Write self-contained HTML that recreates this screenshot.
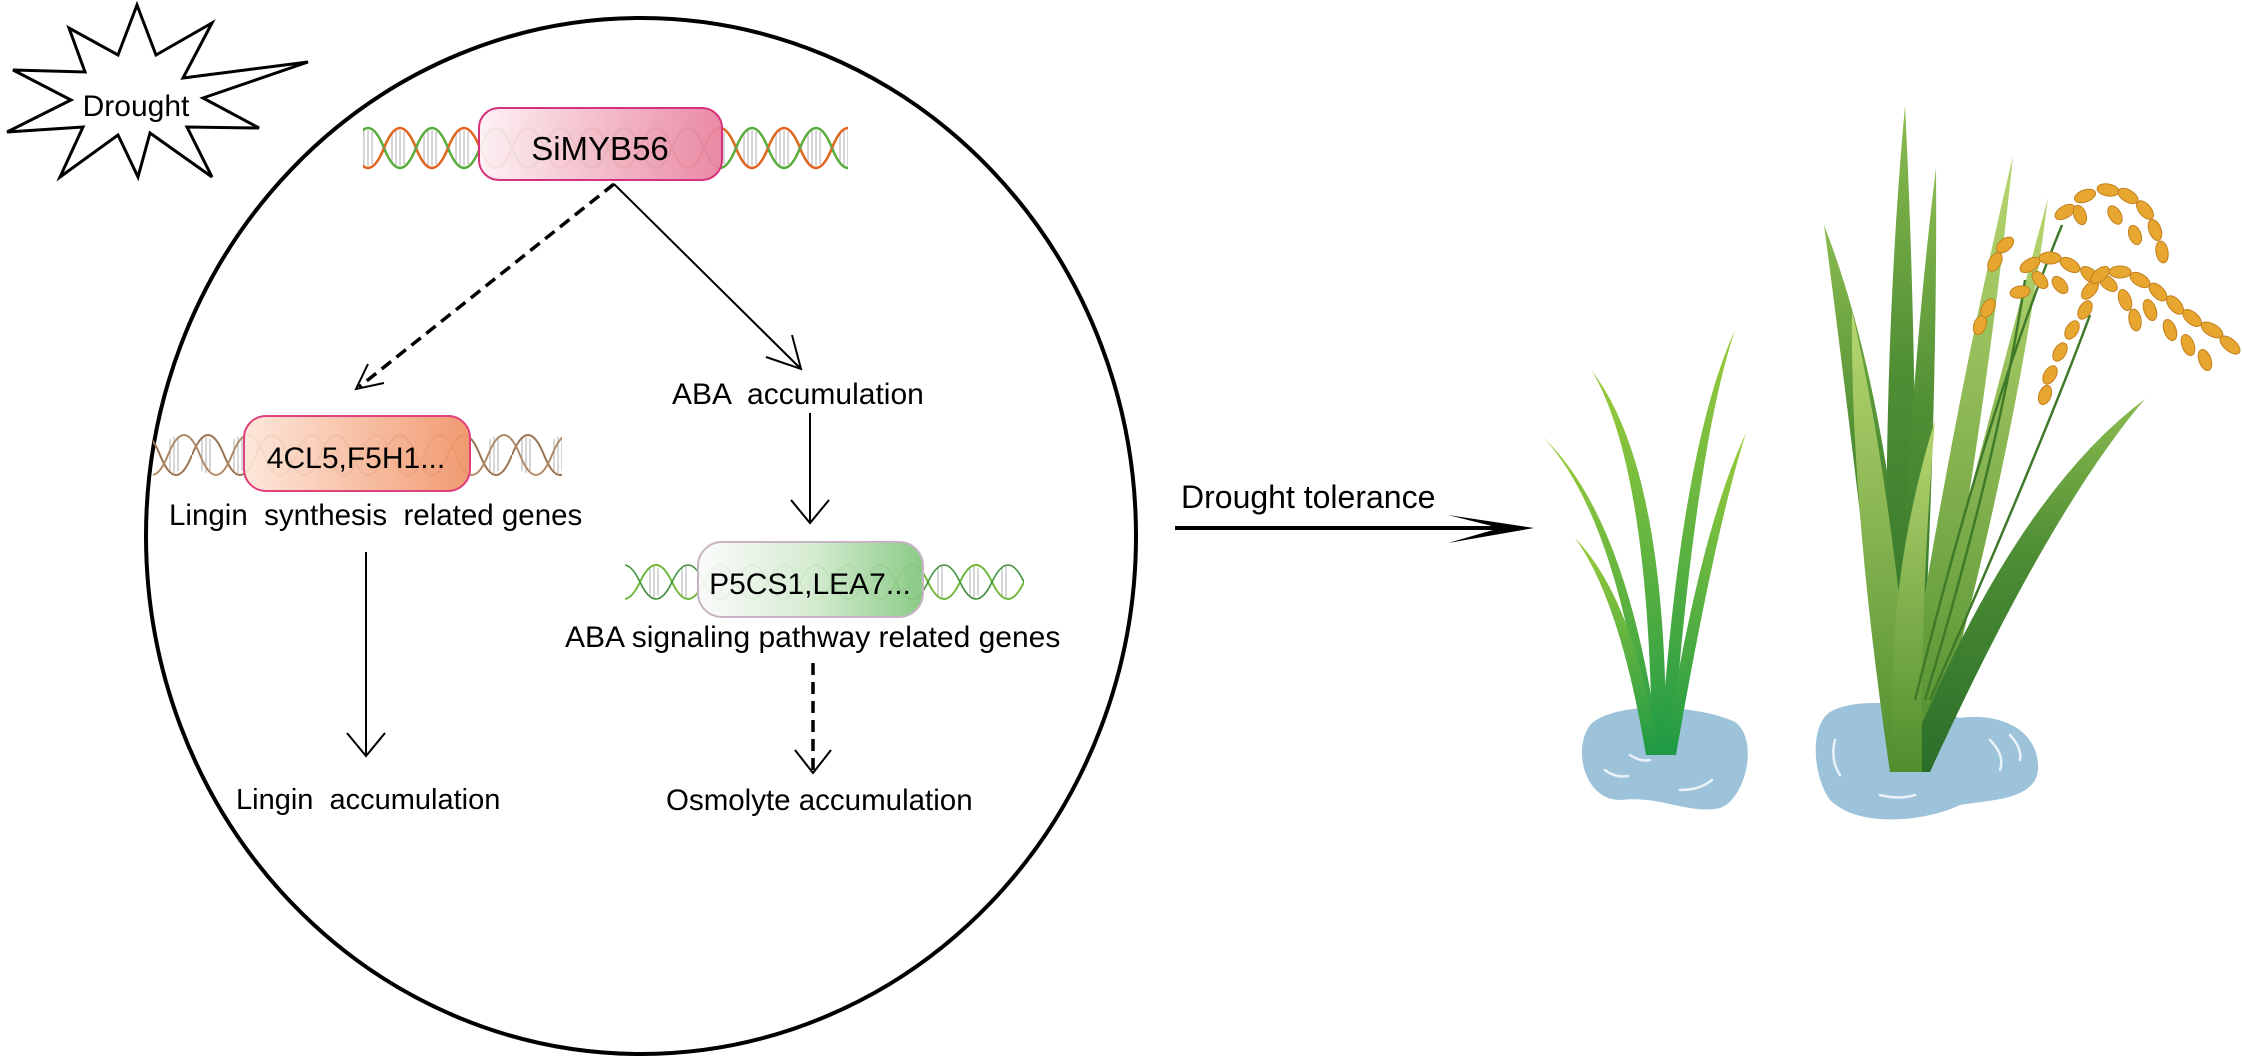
<!DOCTYPE html>
<html><head><meta charset="utf-8"><style>
html,body{margin:0;padding:0;background:#fff;}
svg{display:block;}
text{font-family:"Liberation Sans",sans-serif;fill:#000;white-space:pre;}
</style></head><body>
<svg width="2242" height="1056" viewBox="0 0 2242 1056" xmlns="http://www.w3.org/2000/svg" xml:space="preserve">
<defs>
<pattern id="dnaA" patternUnits="userSpaceOnUse" x="0" y="126" width="64" height="44">
 <g stroke="#bbb" stroke-width="1.2">
  <line x1="8" y1="6" x2="8" y2="38"/><line x1="12" y1="4" x2="12" y2="40"/><line x1="16" y1="4" x2="16" y2="40"/><line x1="20" y1="6" x2="20" y2="38"/>
  <line x1="40" y1="6" x2="40" y2="38"/><line x1="44" y1="4" x2="44" y2="40"/><line x1="48" y1="4" x2="48" y2="40"/><line x1="52" y1="6" x2="52" y2="38"/>
 </g>
 <path d="M0,22 Q16,-18 32,22 T64,22" fill="none" stroke="#e0641c" stroke-width="2.5"/>
 <path d="M0,22 Q16,62 32,22 T64,22" fill="none" stroke="#5aab3c" stroke-width="2.5"/>
</pattern>
<pattern id="dnaB" patternUnits="userSpaceOnUse" x="0" y="433" width="64" height="44">
 <g stroke="#bbb" stroke-width="1.2">
  <line x1="10" y1="6" x2="10" y2="38"/><line x1="14" y1="4" x2="14" y2="40"/><line x1="18" y1="6" x2="18" y2="38"/>
  <line x1="42" y1="6" x2="42" y2="38"/><line x1="46" y1="4" x2="46" y2="40"/><line x1="50" y1="6" x2="50" y2="38"/>
 </g>
 <path d="M0,22 Q16,-18 32,22 T64,22" fill="none" stroke="#9a7250" stroke-width="2"/>
 <path d="M8,22 Q24,62 40,22 T72,22 M-56,22 Q-40,62 -24,22 T8,22" fill="none" stroke="#b08a68" stroke-width="2"/>
</pattern>
<pattern id="dnaC" patternUnits="userSpaceOnUse" x="0" y="562" width="64" height="40">
 <g stroke="#bbb" stroke-width="1.2">
  <line x1="10" y1="6" x2="10" y2="34"/><line x1="14" y1="4" x2="14" y2="36"/><line x1="18" y1="6" x2="18" y2="34"/>
  <line x1="42" y1="6" x2="42" y2="34"/><line x1="46" y1="4" x2="46" y2="36"/>
 </g>
 <path d="M0,20 Q16,-14 32,20 T64,20" fill="none" stroke="#6fb83c" stroke-width="2"/>
 <path d="M0,20 Q16,54 32,20 T64,20" fill="none" stroke="#3f8f3a" stroke-width="1.6"/>
</pattern>
<linearGradient id="gPink" x1="0" x2="1"><stop offset="0" stop-color="#fdf1f4"/><stop offset="0.5" stop-color="#f2b8c6"/><stop offset="1" stop-color="#e9819f"/></linearGradient>
<linearGradient id="gOr" x1="0" x2="1"><stop offset="0" stop-color="#fde6d8"/><stop offset="1" stop-color="#f09367"/></linearGradient>
<linearGradient id="gGr" x1="0" x2="1"><stop offset="0" stop-color="#fbfbfb"/><stop offset="0.5" stop-color="#d3ebcf"/><stop offset="1" stop-color="#82c77d"/></linearGradient>
<linearGradient id="gLeaf" x1="0" y1="1" x2="0" y2="0"><stop offset="0" stop-color="#1f9a45"/><stop offset="1" stop-color="#9ccb3c"/></linearGradient>
<linearGradient id="gLeaf2" x1="0" y1="1" x2="0" y2="0"><stop offset="0" stop-color="#2a6e2a"/><stop offset="0.6" stop-color="#4f8e34"/><stop offset="1" stop-color="#8cbc50"/></linearGradient>
<linearGradient id="gLeaf3" x1="0" y1="1" x2="0" y2="0"><stop offset="0" stop-color="#4f8e2e"/><stop offset="1" stop-color="#b8d670"/></linearGradient>
</defs>

<!-- cell -->
<ellipse cx="641" cy="536" rx="495" ry="518" fill="none" stroke="#000" stroke-width="4"/>

<!-- star -->
<polygon points="137,5 156,55 212,23 183,78 308,62 203,98 259,128 187,127 212,177 150,133 138,177 118,135 60,177 83,127 7,132 71,100 13,70 85,72 69,28 118,55" fill="#fff" stroke="#000" stroke-width="3"/>
<text x="136" y="116" font-size="30" text-anchor="middle">Drought</text>

<!-- SiMYB56 -->
<rect x="363" y="126" width="485" height="44" fill="url(#dnaA)"/>
<rect x="479" y="108" width="243" height="72" rx="20" fill="url(#gPink)" fill-opacity="0.93" stroke="#d8317c" stroke-width="2"/>
<text x="600" y="160" font-size="33" text-anchor="middle">SiMYB56</text>

<!-- arrows from SiMYB56 -->
<line x1="614" y1="184" x2="359" y2="387" stroke="#000" stroke-width="3.5" stroke-dasharray="12,7"/>
<polyline points="368,364 356,389 384,383" fill="none" stroke="#000" stroke-width="2"/>
<line x1="614" y1="184" x2="801" y2="369" stroke="#000" stroke-width="2"/>
<polyline points="766,357 801,369 792,335" fill="none" stroke="#000" stroke-width="2"/>

<text x="672" y="404" font-size="30">ABA  accumulation</text>

<!-- 4CL5 -->
<rect x="153" y="433" width="409" height="44" fill="url(#dnaB)"/>
<rect x="244" y="416" width="226" height="75" rx="22" fill="url(#gOr)" fill-opacity="0.93" stroke="#e0407c" stroke-width="2"/>
<text x="356" y="468" font-size="30" text-anchor="middle">4CL5,F5H1...</text>
<text x="169" y="525" font-size="29.5">Lingin  synthesis  related genes</text>

<line x1="366" y1="552" x2="366" y2="756" stroke="#000" stroke-width="2"/>
<polyline points="347,733 366,756 385,733" fill="none" stroke="#000" stroke-width="2"/>
<text x="236" y="809" font-size="29">Lingin  accumulation</text>

<!-- ABA chain -->
<line x1="810" y1="413" x2="810" y2="523" stroke="#000" stroke-width="2"/>
<polyline points="791,500 810,523 829,500" fill="none" stroke="#000" stroke-width="2"/>

<rect x="625" y="562" width="399" height="40" fill="url(#dnaC)"/>
<rect x="698" y="542" width="225" height="75" rx="24" fill="url(#gGr)" fill-opacity="0.93" stroke="#c7b3c3" stroke-width="2"/>
<text x="810" y="594" font-size="30" text-anchor="middle">P5CS1,LEA7...</text>
<text x="565" y="647" font-size="30">ABA signaling pathway related genes</text>

<line x1="813" y1="663" x2="813" y2="771" stroke="#000" stroke-width="3.5" stroke-dasharray="12,7"/>
<polyline points="795,750 813,773 831,750" fill="none" stroke="#000" stroke-width="2"/>
<text x="666" y="810" font-size="29.5">Osmolyte accumulation</text>

<!-- drought tolerance arrow -->
<text x="1181" y="508" font-size="32">Drought tolerance</text>
<line x1="1175" y1="528" x2="1500" y2="528" stroke="#000" stroke-width="4"/>
<path d="M1448,515 L1534,528 L1448,543 L1500,528 Z" fill="#000"/>

<!-- small plant puddle -->
<path d="M1590,725 C1615,700 1700,705 1735,722 C1760,740 1745,800 1720,808 C1690,815 1660,795 1620,800 C1585,800 1572,750 1590,725 Z" fill="#9cc3da"/>
<g fill="none" stroke="#e8f2f8" stroke-width="2.5" stroke-linecap="round">
<path d="M1605,770 Q1615,778 1628,776"/><path d="M1680,790 Q1700,790 1712,780"/><path d="M1630,755 Q1640,762 1650,760"/>
</g>
<g fill="url(#gLeaf)">
<path d="M1648,755 Q1620,520 1543,437 Q1630,520 1660,755 Z"/>
<path d="M1652,755 Q1650,470 1592,371 Q1668,470 1666,755 Z"/>
<path d="M1660,755 Q1680,450 1735,330 Q1695,450 1672,755 Z"/>
<path d="M1664,755 Q1700,530 1746,433 Q1715,530 1676,755 Z"/>
<path d="M1646,755 Q1620,600 1575,538 Q1635,600 1658,755 Z"/>
</g>

<!-- big plant puddle -->
<path d="M1830,712 C1860,695 1920,705 1960,718 C2000,712 2040,730 2038,770 C2035,800 1990,800 1960,805 C1930,820 1860,830 1830,800 C1812,775 1810,725 1830,712 Z" fill="#9cc3da"/>
<g fill="none" stroke="#e8f2f8" stroke-width="2.5" stroke-linecap="round">
<path d="M1835,740 Q1830,760 1840,775"/><path d="M1990,740 Q2005,755 2000,770"/><path d="M1880,795 Q1900,800 1915,795"/><path d="M2010,735 Q2022,748 2020,760"/>
</g>
<g>
<path d="M1890,772 Q1850,420 1824,225 Q1900,420 1916,772 Z" fill="url(#gLeaf2)"/>
<path d="M1890,772 Q1878,400 1905,106 Q1920,400 1914,772 Z" fill="url(#gLeaf2)"/>
<path d="M1894,772 Q1905,420 1936,168 Q1938,420 1918,772 Z" fill="url(#gLeaf2)"/>
<path d="M1896,772 Q1950,420 2013,156 Q1985,430 1922,772 Z" fill="url(#gLeaf3)"/>
<path d="M1898,772 Q1980,450 2048,198 Q2015,460 1926,772 Z" fill="url(#gLeaf3)"/>
<path d="M1890,772 Q1850,500 1852,311 Q1895,500 1916,772 Z" fill="url(#gLeaf3)"/>
<path d="M1902,772 Q2010,500 2145,399 Q2050,510 1930,772 Z" fill="url(#gLeaf2)"/>
<path d="M1896,772 Q1880,600 1935,420 Q1920,600 1922,772 Z" fill="url(#gLeaf3)"/>
</g>
<g fill="none" stroke="#3f7a2a" stroke-width="2.5">
<path d="M1915,700 Q1990,400 2062,225"/>
<path d="M1925,700 Q2000,450 2025,280"/>
<path d="M1930,700 Q2040,450 2090,315"/>
</g>
<g fill="#e7a630" stroke="#c2801c" stroke-width="1">
<ellipse cx="2065" cy="212" rx="11" ry="6" transform="rotate(-30 2065 212)"/>
<ellipse cx="2085" cy="196" rx="11" ry="6" transform="rotate(-20 2085 196)"/>
<ellipse cx="2108" cy="190" rx="11" ry="6" transform="rotate(10 2108 190)"/>
<ellipse cx="2128" cy="196" rx="11" ry="6" transform="rotate(30 2128 196)"/>
<ellipse cx="2145" cy="210" rx="11" ry="6" transform="rotate(50 2145 210)"/>
<ellipse cx="2155" cy="230" rx="11" ry="6" transform="rotate(70 2155 230)"/>
<ellipse cx="2162" cy="252" rx="11" ry="6" transform="rotate(80 2162 252)"/>
<ellipse cx="2115" cy="215" rx="10" ry="6" transform="rotate(60 2115 215)"/>
<ellipse cx="2135" cy="235" rx="10" ry="6" transform="rotate(70 2135 235)"/>
<ellipse cx="2080" cy="215" rx="10" ry="6" transform="rotate(70 2080 215)"/>
<ellipse cx="2030" cy="265" rx="11" ry="6" transform="rotate(-30 2030 265)"/>
<ellipse cx="2050" cy="258" rx="11" ry="6" transform="rotate(0 2050 258)"/>
<ellipse cx="2070" cy="265" rx="11" ry="6" transform="rotate(30 2070 265)"/>
<ellipse cx="2090" cy="275" rx="11" ry="6" transform="rotate(40 2090 275)"/>
<ellipse cx="2108" cy="283" rx="11" ry="6" transform="rotate(40 2108 283)"/>
<ellipse cx="2040" cy="280" rx="10" ry="6" transform="rotate(50 2040 280)"/>
<ellipse cx="2060" cy="285" rx="10" ry="6" transform="rotate(50 2060 285)"/>
<ellipse cx="2020" cy="292" rx="10" ry="6" transform="rotate(-10 2020 292)"/>
<ellipse cx="2090" cy="290" rx="11" ry="6" transform="rotate(-50 2090 290)"/>
<ellipse cx="2100" cy="275" rx="11" ry="6" transform="rotate(-40 2100 275)"/>
<ellipse cx="2120" cy="272" rx="11" ry="6" transform="rotate(0 2120 272)"/>
<ellipse cx="2140" cy="280" rx="11" ry="6" transform="rotate(30 2140 280)"/>
<ellipse cx="2158" cy="292" rx="11" ry="6" transform="rotate(45 2158 292)"/>
<ellipse cx="2175" cy="305" rx="11" ry="6" transform="rotate(50 2175 305)"/>
<ellipse cx="2192" cy="318" rx="11" ry="6" transform="rotate(40 2192 318)"/>
<ellipse cx="2212" cy="330" rx="12" ry="6" transform="rotate(30 2212 330)"/>
<ellipse cx="2230" cy="345" rx="12" ry="6" transform="rotate(40 2230 345)"/>
<ellipse cx="2150" cy="310" rx="11" ry="6" transform="rotate(70 2150 310)"/>
<ellipse cx="2170" cy="330" rx="11" ry="6" transform="rotate(70 2170 330)"/>
<ellipse cx="2188" cy="345" rx="11" ry="6" transform="rotate(70 2188 345)"/>
<ellipse cx="2205" cy="360" rx="11" ry="6" transform="rotate(70 2205 360)"/>
<ellipse cx="2125" cy="300" rx="11" ry="6" transform="rotate(70 2125 300)"/>
<ellipse cx="2135" cy="320" rx="11" ry="6" transform="rotate(80 2135 320)"/>
<ellipse cx="2085" cy="310" rx="10" ry="6" transform="rotate(-60 2085 310)"/>
<ellipse cx="2072" cy="330" rx="10" ry="6" transform="rotate(-60 2072 330)"/>
<ellipse cx="2060" cy="352" rx="10" ry="6" transform="rotate(-60 2060 352)"/>
<ellipse cx="2050" cy="375" rx="10" ry="6" transform="rotate(-60 2050 375)"/>
<ellipse cx="2045" cy="395" rx="10" ry="6" transform="rotate(-70 2045 395)"/>
<ellipse cx="1980" cy="325" rx="10" ry="6" transform="rotate(-70 1980 325)"/>
<ellipse cx="1988" cy="308" rx="10" ry="6" transform="rotate(-60 1988 308)"/>
<ellipse cx="2005" cy="245" rx="10" ry="6" transform="rotate(-40 2005 245)"/>
<ellipse cx="1995" cy="262" rx="10" ry="6" transform="rotate(-60 1995 262)"/>
</g>
</svg>
</body></html>
